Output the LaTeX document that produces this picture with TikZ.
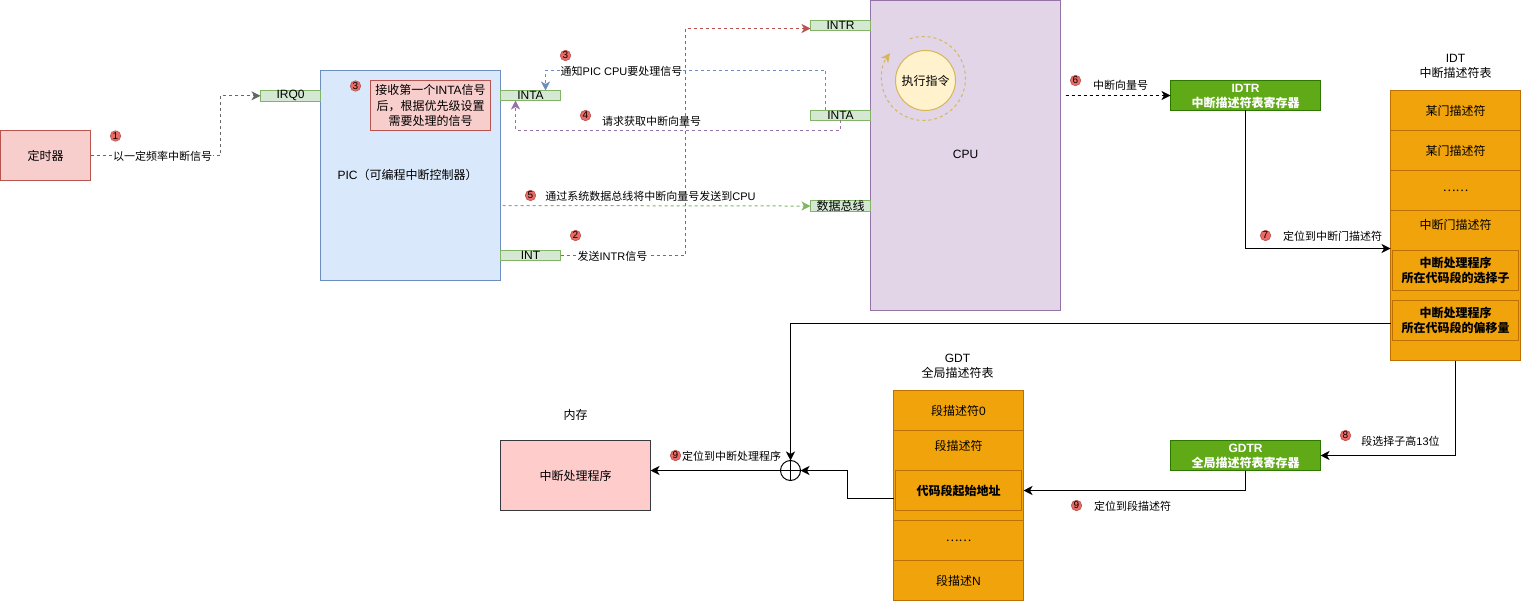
\documentclass[tikz,border=0pt]{standalone}
\usepackage{fontspec}
\setmainfont{Noto Sans CJK SC}
\newfontfamily\latf{Liberation Sans}
\usetikzlibrary{arrows.meta}
\newcommand{\la}[1]{{\latf #1}}
\newcommand{\lh}[1]{{\latf #1}\vphantom{中}}
\newcommand{\boxat}[7]{%
  \pgfmathsetmacro\bw{#4-#2}\pgfmathsetmacro\bh{#5-#3}%
  \node[#6,anchor=north west,outer sep=0pt,inner sep=0pt,minimum width=\bw pt,minimum height=\bh pt,align=center] (#1) at (#2,#3) {#7};}
\definecolor{pinkf}{HTML}{F8CECC}\definecolor{pinks}{HTML}{B85450}
\definecolor{bluef}{HTML}{DAE8FC}\definecolor{blues}{HTML}{6C8EBF}
\definecolor{greenf}{HTML}{D5E8D4}\definecolor{greens}{HTML}{82B366}
\definecolor{purpf}{HTML}{E1D5E7}\definecolor{purps}{HTML}{9673A6}
\definecolor{yelf}{HTML}{FFF2CC}\definecolor{yels}{HTML}{D6B656}
\definecolor{regf}{HTML}{60A917}\definecolor{regs}{HTML}{2D7600}
\definecolor{orf}{HTML}{F0A30A}\definecolor{ors}{HTML}{BD7000}
\definecolor{memf}{HTML}{FFCCCC}\definecolor{mems}{HTML}{36393D}
\definecolor{markf}{HTML}{EA6B66}
\definecolor{graylink}{HTML}{666666}
\tikzset{
  f12/.style={font=\fontsize{12}{15.5}\selectfont},
  f11/.style={font=\fontsize{11}{14}\selectfont},
  txt/.style={f11,inner sep=0pt,align=center},
  ltxt/.style={f11,inner sep=1pt,fill=white,align=center},
  pinkbox/.style={fill=pinkf,draw=pinks,text=black,f12},
  tag/.style={fill=greenf,draw=greens,text=black,f12},
  regbox/.style={fill=regf,draw=regs,text=white,font=\fontsize{12}{15.5}\selectfont\bfseries},
  orow/.style={fill=orf,draw=ors,text=black,f12},
  oin/.style={fill=orf,draw=ors,text=black,font=\fontsize{12}{15.5}\selectfont\bfseries},
  mk/.style={circle,fill=markf,draw=pinks,line width=0.6pt,minimum size=10.5pt,inner sep=0pt,font=\latf\fontsize{10}{10}\selectfont},
  tip/.style={-{Stealth[length=9pt,width=9pt,inset=2.5pt]}},
  dlink/.style={tip,dash pattern=on 3pt off 3pt,line width=1pt},
  slink/.style={tip,line width=1pt,black},
}
\begin{document}
\begin{tikzpicture}[x=1pt,y=-1pt,line width=1pt]
\fill[white] (0,0) rectangle (1533,601);
\useasboundingbox (0,0) rectangle (1533,601);
\begin{scope}[shift={(0.5,0.5)}]
% boxes
\boxat{timer}{0}{130}{90}{180}{pinkbox}{定时器}
\boxat{pic}{320}{70}{500}{280}{fill=bluef,draw=blues,text=black,f12}{}
\node[f12,inner sep=0pt] (pictext) at (407,174) {\la{PIC}（可编程中断控制器）};
\boxat{note}{370}{80}{490}{130}{pinkbox}{接收第一个\la{INTA}信号\\后，根据优先级设置\\需要处理的信号}
\boxat{irq}{260}{90}{320}{100}{tag}{\la{IRQ0}}
\boxat{inta}{500}{90}{560}{100}{tag}{\la{INTA}}
\boxat{int}{500}{250}{560}{260}{tag}{\la{INT}}
\boxat{cpu}{870}{0}{1060}{310}{fill=purpf,draw=purps,text=black,f12}{}
\node[f12,inner sep=0pt] (cputext) at (965,154) {\la{CPU}};
\boxat{intr}{810}{20}{870}{30}{tag}{\la{INTR}}
\boxat{inta2}{810}{110}{870}{120}{tag}{\la{INTA}}
\boxat{bus}{810}{200}{870}{210}{tag}{数据总线}
\node[circle,draw=yels,fill=yelf,minimum size=60pt,inner sep=0pt,outer sep=0pt,f12] (exec) at (925,80) {执行指令};
\coordinate (loopc) at (923,78);
\draw[tip,yels,dash pattern=on 3pt off 3pt] (loopc) ++(109:42pt) arc[start angle=109,end angle=-217,radius=42pt];
\boxat{idtr}{1170}{80}{1320}{110}{regbox}{\lh{IDTR}\\中断描述符表寄存器}
\boxat{gdtr}{1170}{440}{1320}{470}{regbox}{\lh{GDTR}\\全局描述符表寄存器}
% IDT
\node[f12,align=center,inner sep=0pt] (idtlabel) at (1455,65) {\lh{IDT}\\中断描述符表};
\boxat{i1}{1390}{90}{1520}{130}{orow}{某门描述符}
\boxat{i2}{1390}{130}{1520}{170}{orow}{某门描述符}
\boxat{i3}{1390}{170}{1520}{210}{orow}{……}
\boxat{i4}{1390}{210}{1520}{360}{orow}{}
\node[f12,inner sep=0pt] (i4t) at (1455,224) {中断门描述符};
\boxat{isel}{1392}{250}{1518}{290}{oin}{中断处理程序\\所在代码段的选择子}
\boxat{ioff}{1392}{300}{1518}{340}{oin}{中断处理程序\\所在代码段的偏移量}
% GDT
\node[f12,align=center,inner sep=0pt] (gdtlabel) at (957,365) {\lh{GDT}\\全局描述符表};
\boxat{g1}{893}{390}{1023}{430}{orow}{段描述符\la{0}}
\boxat{g2}{893}{430}{1023}{520}{orow}{}
\node[f12,inner sep=0pt] (g2t) at (958,445) {段描述符};
\boxat{gcode}{895}{470}{1021}{510}{oin}{代码段起始地址}
\boxat{g3}{893}{520}{1023}{560}{orow}{……}
\boxat{g4}{893}{560}{1023}{600}{orow}{段描述\la{N}}
% memory
\node[f12,inner sep=0pt] (memlabel) at (575,414) {内存};
\boxat{handler}{500}{440}{650}{510}{fill=memf,draw=mems,text=black,f12}{中断处理程序}
\node[circle,draw=black,minimum size=20pt,inner sep=0pt,outer sep=0pt] (plus) at (790,470) {};
\draw (plus.north) -- (plus.south) (plus.west) -- (plus.east);
% connectors
\coordinate (greenstart) at (502,205);
\coordinate (cpuout) at (1065,95);
\draw[dlink,graylink] (timer.east) -- ++(130,0) |- (irq.west);
\draw[dlink,pinks] (int.east) -- ++(125,0) |- ([yshift=-3pt]intr.west);
\draw[dlink,blues] ([xshift=-15pt]inta2.north) |- ++(-140,-40) -| ([xshift=-15pt]inta.north east);
\draw[dlink,purps] ([xshift=-30pt]inta2.south east) -- ++(0,10) -| ([xshift=15pt]inta.south west);
\draw[dlink,greens] (greenstart) -- (bus.west);
\draw[dlink,black] (cpuout) -- (idtr.west);
\draw[slink] (idtr.south) |- ([yshift=37pt]i4.west);
\draw[slink] (i4.south) |- (gdtr.east);
\draw[slink] (gdtr.south) |- (g2.east |- gcode.west);
\draw[slink] ([yshift=-38pt]i4.west) -| (plus.north);
\draw[slink] ([yshift=-23pt]g2.west) -- ++(-46,0) |- (plus.east);
\draw[slink] (plus.west) -- (handler.east |- plus.west);
% labels
\node[ltxt] (l1) at (162,156) {以一定频率中断信号};
\node[ltxt] (l2) at (612,256) {发送\la{INTR}信号};
\node[ltxt] (l3) at (621,71) {通知\la{PIC CPU}要处理信号};
\node[txt] (l4) at (651,121) {请求获取中断向量号};
\node[txt] (l5) at (650,196) {通过系统数据总线将中断向量号发送到\la{CPU}};
\node[txt] (l6) at (1120,85) {中断向量号};
\node[txt] (l7) at (1332,236) {定位到中断门描述符};
\node[txt] (l8) at (1400,441) {段选择子高\la{13}位};
\node[txt] (l9) at (1132,506) {定位到段描述符};
\node[txt] (l10) at (731,456) {定位到中断处理程序};
% markers
\node[mk] (m1) at (115,135.5) {1};
\node[mk] (m2) at (575,235) {2};
\node[mk] (m3a) at (355,85.5) {3};
\node[mk] (m3b) at (565,55) {3};
\node[mk] (m4) at (585,115) {4};
\node[mk] (m5) at (530,195) {5};
\node[mk] (m6) at (1075,80) {6};
\node[mk] (m7) at (1265,235) {7};
\node[mk] (m8) at (1345,435) {8};
\node[mk] (m9a) at (1076,505) {9};
\node[mk] (m9b) at (675,455) {9};
\end{scope}
\end{tikzpicture}
\end{document}
